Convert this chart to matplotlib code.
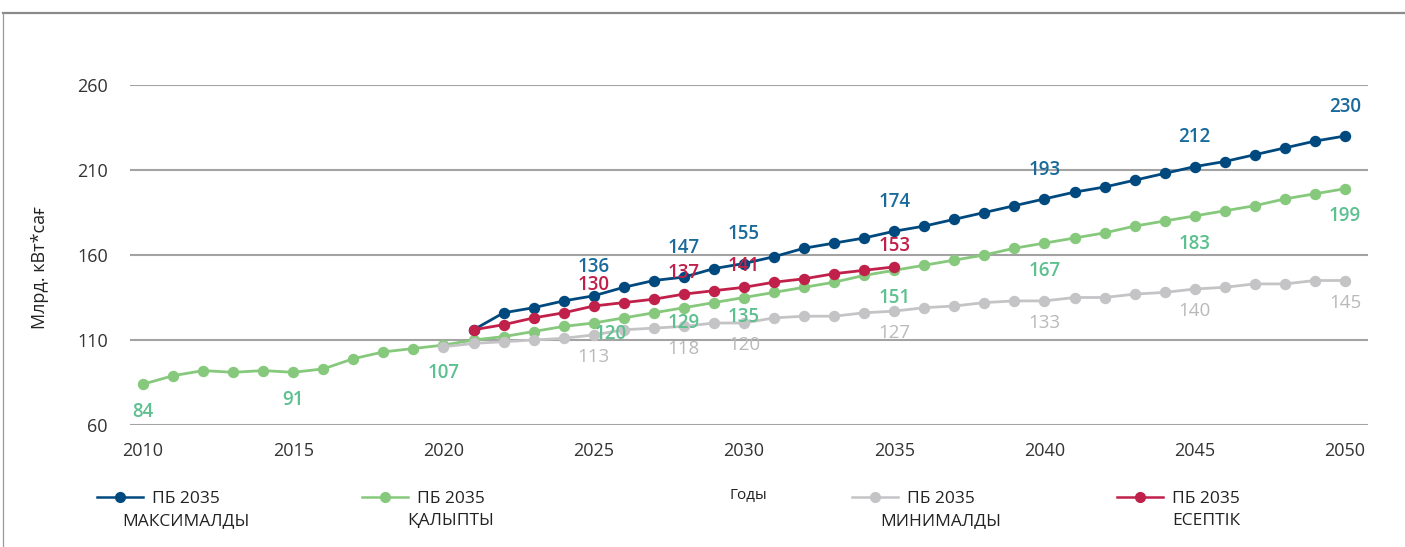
import matplotlib
matplotlib.use("Agg")
import matplotlib.pyplot as plt
from matplotlib.lines import Line2D

plt.rcParams['font.family'] = ['Open Sans', 'DejaVu Sans']

# --- data ---
years_hist = list(range(2010, 2051))
normal_vals = [84, 89, 92, 91, 92, 91, 93, 99, 103, 105,
               107, 110, 112, 115, 118, 120, 123, 126, 129, 132,
               135, 138, 141, 144, 148, 151, 154, 157, 160, 164,
               167, 170, 173, 177, 180, 183, 186, 189, 193, 196, 199]

years_max = list(range(2021, 2051))
max_vals = [116, 126, 129, 133, 136, 141, 145, 147, 152, 155,
            159, 164, 167, 170, 174, 177, 181, 185, 189, 193,
            197, 200, 204, 208, 212, 215, 219, 223, 227, 230]

years_min = list(range(2020, 2051))
min_vals = [106, 108, 109, 110, 111, 113, 116, 117, 118, 120,
            120, 123, 124, 124, 126, 127, 129, 130, 132, 133,
            133, 135, 135, 137, 138, 140, 141, 143, 143, 145, 145]

years_calc = list(range(2021, 2036))
calc_vals = [116, 119, 123, 126, 130, 132, 134, 137, 139, 141,
             144, 146, 149, 151, 153]

label_years_max = [2025, 2028, 2030, 2035, 2040, 2045, 2050]
label_years_normal = [2010, 2015, 2020, 2025, 2028, 2030, 2035, 2040, 2045, 2050]
label_years_min = [2025, 2028, 2030, 2035, 2040, 2045, 2050]
label_years_calc = [2025, 2028, 2030, 2035]

y_ticks = [60, 110, 160, 210, 260]
x_ticks = [2010, 2015, 2020, 2025, 2030, 2035, 2040, 2045, 2050]

legend_names = ["ПБ 2035\nМАКСИМАЛДЫ", "ПБ 2035\nҚАЛЫПТЫ",
                "ПБ 2035\nМИНИМАЛДЫ", "ПБ 2035\nЕСЕПТІК"]

# --- styles ---
BLUE, BLUE_TXT = "#00497f", "#1a6a9c"
GREEN, GREEN_TXT = "#86c97c", "#5cc08f"
GRAY, GRAY_TXT = "#c4c4c6", "#b9b9bb"
RED = "#c0204a"

W, H = 1405, 547
fig = plt.figure(figsize=(W / 100, H / 100), dpi=100)
ax = fig.add_axes([130 / W, 1 - 425 / H, (1368 - 130) / W, (425 - 85) / H])

series = [
    (years_max, max_vals, BLUE, BLUE_TXT, label_years_max, 21, "semibold"),
    (years_hist, normal_vals, GREEN, GREEN_TXT, label_years_normal, -20, "semibold"),
    (years_min, min_vals, GRAY, GRAY_TXT, label_years_min, -16, "normal"),
    (years_calc, calc_vals, RED, RED, label_years_calc, 15, "semibold"),
]
# a few labels sit off their usual spot in the original
label_nudge = {(GREEN, 2025): (12, -8), (GREEN, 2028): (0, -11), (GREEN, 2030): (0, -14)}

# draw order: gray, green, red, blue on top
for idx in [2, 1, 3, 0]:
    xs, ys, col, tcol, lab_years, dy, wt = series[idx]
    ax.plot(xs, ys, color=col, lw=2.0, marker='o', ms=7.2, mec=col, mfc=col,
            zorder=3 + idx * 0.1, clip_on=False)
    for yr in lab_years:
        v = ys[xs.index(yr)]
        ox, oy = label_nudge.get((col, yr), (0, dy))
        ax.annotate(str(v), (yr, v), xytext=(ox, oy), textcoords='offset points',
                    ha='center', va='center', color=tcol, fontsize=13.5,
                    fontweight=wt, zorder=6)

ax.set_xlim(2010 - 13 / 30.05, 2050 + 23 / 30.05)
ax.set_ylim(60, 260)
ax.set_yticks(y_ticks)
ax.set_xticks(x_ticks)
ax.tick_params(length=0, labelsize=13, colors="#333333")
ax.tick_params(axis='y', pad=16)
ax.tick_params(axis='x', pad=12)
ax.grid(axis='y', color="#a3a3a3", lw=1.5)
ax.grid(axis='x', visible=False)
ax.set_axisbelow(True)
for s in ax.spines.values():
    s.set_visible(False)

fig.text(40 / W, 1 - 268 / H, "Млрд. кВт*сағ", rotation=90, ha='center',
         va='center', fontsize=13, color="#222222")
fig.text(748 / W, 1 - 495 / H, "Годы", ha='center', va='center',
         fontsize=11, color="#222222")

# legend drawn by hand to follow the original's spacing
legend_x = [97, 362, 852, 1117]
legend_cols = [BLUE, GREEN, GRAY, RED]
for lx, col, name in zip(legend_x, legend_cols, legend_names):
    y0 = 1 - 497 / H
    fig.add_artist(Line2D([lx / W, (lx + 46) / W], [y0, y0], color=col, lw=1.8,
                          transform=fig.transFigure))
    fig.add_artist(Line2D([(lx + 23) / W], [y0], color=col, marker='o', ms=7,
                          transform=fig.transFigure))
    fig.text((lx + 89) / W, 1 - 510 / H, name, ha='center', va='center',
             fontsize=12.5, color="#222222", linespacing=1.45,
             multialignment='center')

# outer frame (top and left)
fig.add_artist(Line2D([3 / W, 1], [1 - 13 / H, 1 - 13 / H], color="#8a8a8a",
                      lw=1.6, transform=fig.transFigure))
fig.add_artist(Line2D([3 / W, 3 / W], [0, 1 - 13 / H], color="#9a9a9a",
                      lw=0.9, transform=fig.transFigure))

fig.savefig("out.png", dpi=100)
